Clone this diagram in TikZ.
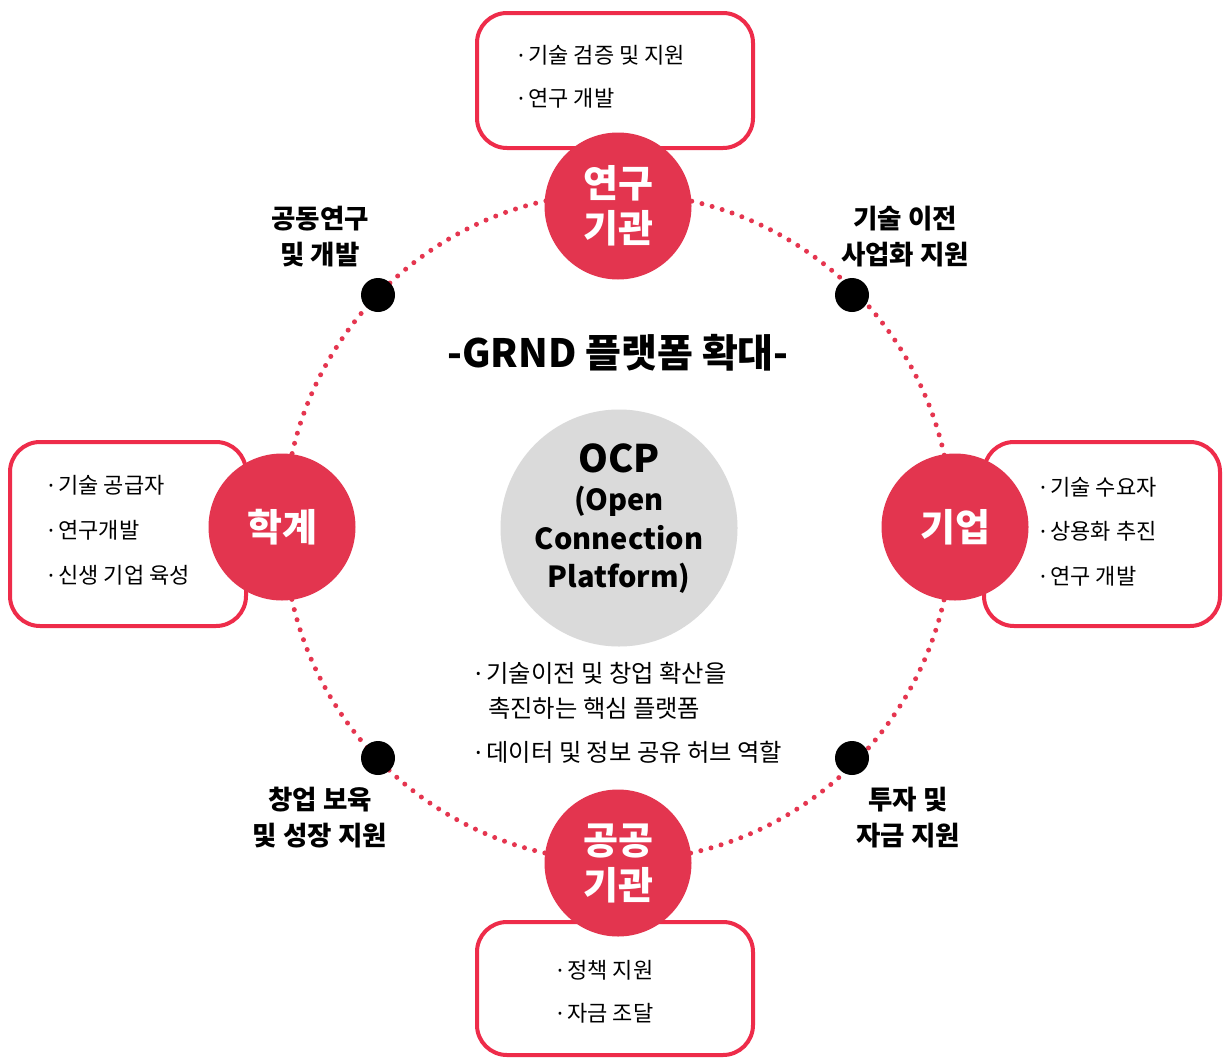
\documentclass[tikz,border=0pt]{standalone}
\usepackage{fontspec}
\setmainfont{Noto Sans CJK KR}
\newfontfamily\dotfont{Noto Sans}
\newcommand{\bul}{{\dotfont ·}\hspace{0.2em}}
\definecolor{ringred}{HTML}{E5354F}
\definecolor{hubred}{HTML}{E3354F}
\definecolor{boxred}{HTML}{EE2C4A}
\definecolor{hubgray}{HTML}{DADADA}
\newcommand{\itemfont}{\fontsize{22}{25}\selectfont}
\newcommand{\midfont}{\fontsize{24.3}{35}\selectfont}
\newcommand{\hubfont}{\fontsize{38}{45}\selectfont\bfseries}
\newcommand{\lblfont}{\fontsize{26.5}{36}\selectfont\bfseries}
\begin{document}
\begin{tikzpicture}[x=1pt,y=-1pt,
  ringc/.style={draw=ringred, line width=5pt, dash pattern=on 0pt off 10.5pt, line cap=round},
  hub/.style={circle, fill=hubred, minimum size=147pt, inner sep=0pt, text=white, font=\hubfont, align=center},
  blackdot/.style={circle, fill=black, minimum size=34pt, inner sep=0pt},
  infobox/.style={draw=boxred, line width=4pt, rounded corners=30pt, fill=white, inner sep=0pt},
  item/.style={anchor=west, inner sep=0pt, font=\itemfont},
  miditem/.style={anchor=west, inner sep=0pt, font=\midfont},
  lbl/.style={align=center, font=\lblfont, inner sep=0pt}]
\fill[white] (0,0) rectangle (1223,1060);
\useasboundingbox (0,0) rectangle (1223,1060);
% ring
\coordinate (ringc) at (618,527);
\draw[ringc] (ringc) circle[radius=334];
% boxes
\node[infobox, minimum width=276pt, minimum height=135pt] (tbox) at (615,80.5) {};
\node[infobox, minimum width=236pt, minimum height=184pt] (lbox) at (128,534) {};
\node[infobox, minimum width=236pt, minimum height=184pt] (rbox) at (1102,534) {};
\node[infobox, minimum width=276pt, minimum height=133pt] (bbox) at (615,988.5) {};
% box items
\node[item] (t1) at (518,55) {\bul 기술 검증 및 지원};
\node[item] (t2) at (518,98) {\bul 연구 개발};
\node[item] (l1) at (48,485) {\bul 기술 공급자};
\node[item] (l2) at (48,530) {\bul 연구개발};
\node[item] (l3) at (48,575) {\bul 신생 기업 육성};
\node[item] (r1) at (1040,487) {\bul 기술 수요자};
\node[item] (r2) at (1040,531) {\bul 상용화 추진};
\node[item] (r3) at (1040,576) {\bul 연구 개발};
\node[item] (b1) at (557,970) {\bul 정책 지원};
\node[item] (b2) at (557,1013) {\bul 자금 조달};
% hubs
\node[hub] (research) at (618,206) {연구\\기관};
\node[hub] (public) at (618,863) {공공\\기관};
\node[hub] (academia) at (282,527) {학계};
\node[hub] (company) at (955,527) {기업};
% center
\node[circle, fill=hubgray, minimum size=237pt, inner sep=0pt] (ocp) at (619,528) {};
\node[font=\fontsize{38}{40}\selectfont\bfseries, inner sep=0pt] (ocpt) at (619,458) {OCP};
\node[font=\fontsize{29}{38.5}\selectfont\bfseries, align=center, inner sep=0pt] (ocpf) at (619,540) {(Open\\Connection\\Platform)};
\node[font=\fontsize{39}{40}\selectfont\bfseries, inner sep=0pt] (title) at (618,353) {-GRND 플랫폼 확대-};
% black dots
\node[blackdot] (d1) at (378,295) {};
\node[blackdot] (d2) at (852,295) {};
\node[blackdot] (d3) at (378,758) {};
\node[blackdot] (d4) at (852,758) {};
% labels
\node[lbl] (L1) at (320,237) {공동연구\\및 개발};
\node[lbl] (L2) at (905,237) {기술 이전\\사업화 지원};
\node[lbl] (L3) at (320,818) {창업 보육\\및 성장 지원};
\node[lbl] (L4) at (908,818) {투자 및\\자금 지원};
% middle text
\node[miditem] (m1) at (475,673) {\bul 기술이전 및 창업 확산을};
\node[miditem] (m2) at (488,708) {촉진하는 핵심 플랫폼};
\node[miditem] (m3) at (475,752) {\bul 데이터 및 정보 공유 허브 역할};
\end{tikzpicture}
\end{document}
